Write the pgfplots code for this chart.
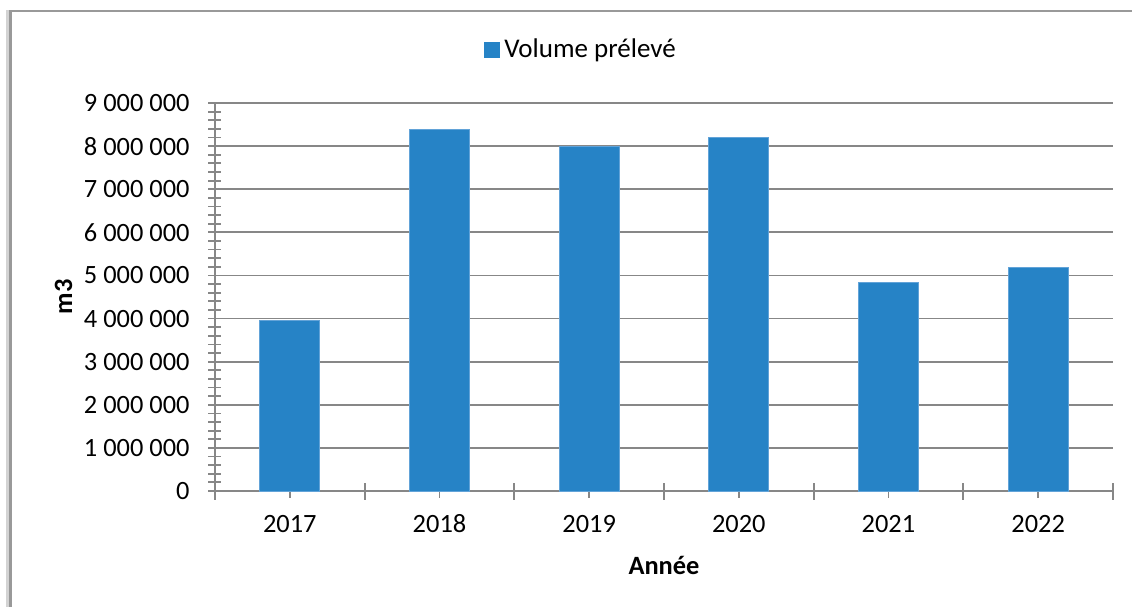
\documentclass[border=0pt]{standalone}
\usepackage{fontspec}
\setmainfont{Carlito}
\usepackage{pgfplots}
\pgfplotsset{compat=1.18}
\definecolor{barblue}{HTML}{2683C6}
\definecolor{baredge}{HTML}{62A3D8}
\definecolor{gridgray}{HTML}{878787}
\definecolor{framedark}{HTML}{999999}
\definecolor{framelight}{HTML}{D3D3D3}
\begin{document}
\begin{tikzpicture}
\useasboundingbox (-107.5pt,-58pt) rectangle (458.5pt,245.5pt);
\begin{axis}[
  at={(0pt,0pt)}, anchor=south west,
  scale only axis, width=449pt, height=194pt,
  xmin=-0.5, xmax=5.5, ymin=0, ymax=9000000,
  axis x line*=bottom, axis y line*=left,
  axis line style={gridgray, line width=0.9pt},
  ybar, bar width=30pt,
  xtick={0,1,2,3,4,5},
  xticklabels={2017,2018,2019,2020,2021,2022},
  extra x ticks={-0.5,0.5,1.5,2.5,3.5,4.5,5.5},
  extra x tick labels={},
  extra x tick style={major tick length=8.5pt},
  ytick={0,1000000,2000000,3000000,4000000,5000000,6000000,7000000,8000000,9000000},
  yticklabels={0,1 000 000,2 000 000,3 000 000,4 000 000,5 000 000,6 000 000,7 000 000,8 000 000,9 000 000},
  scaled y ticks=false,
  minor y tick num=4,
  ymajorgrids, grid style={gridgray, line width=0.9pt},
  tick align=center, major tick length=6.5pt, minor tick length=6.5pt,
  every tick/.style={gridgray, line width=0.9pt},
  tick label style={font=\fontsize{13.2}{15}\selectfont, text=black},
  yticklabel style={anchor=east, inner sep=0pt, xshift=-9.25pt},
  xticklabel style={anchor=base, inner sep=0pt, yshift=-17.5pt},
  xlabel={\textbf{Année}},
  ylabel={\textbf{m3}},
  label style={font=\fontsize{13.2}{15}\selectfont},
  x label style={at={(axis description cs:0.5,-0.193)}, anchor=center},
  y label style={at={(axis description cs:-0.1687,0.5)}, anchor=center},
  legend style={at={(axis description cs:0.4087,1.1366)}, anchor=center, draw=none,
    font=\fontsize{13.5}{15}\selectfont, inner sep=1pt},
  legend image code/.code={\fill[barblue] (0pt,-3.75pt) rectangle (7.5pt,3.75pt);},
]
\addplot[fill=barblue, draw=baredge, line width=0.5pt]
  coordinates {(0,3960000) (1,8380000) (2,7980000) (3,8200000) (4,4830000) (5,5190000)};
\addlegendentry{Volume prélevé}
\end{axis}
\fill[framelight] (-104.5pt,-58pt) rectangle (-103pt,240.5pt);
\fill[framedark] (-103pt,-58pt) rectangle (-101.5pt,240.5pt);
\draw[framedark, line width=1pt] (-101.5pt,240pt) -- (458.5pt,240pt);
\end{tikzpicture}
\end{document}
